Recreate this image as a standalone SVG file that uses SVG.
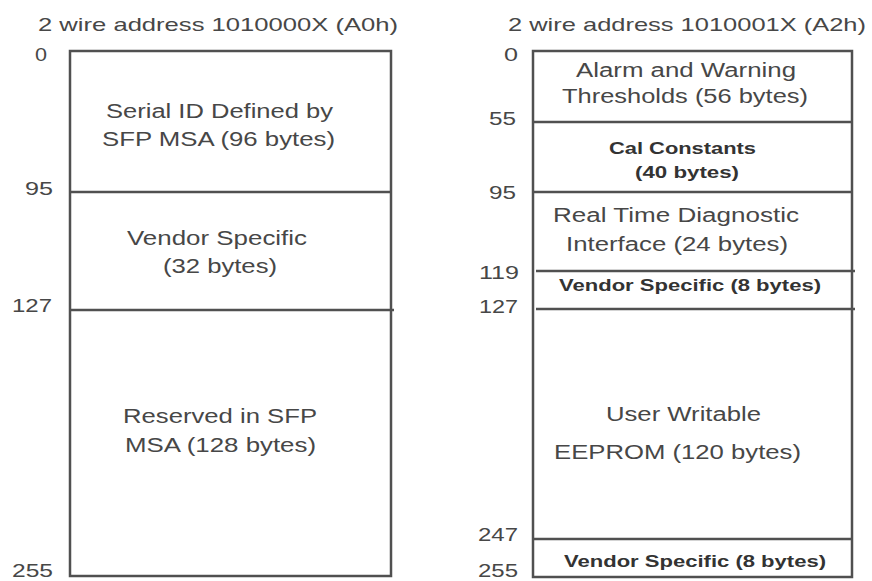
<svg xmlns="http://www.w3.org/2000/svg" width="872" height="581" viewBox="0 0 872 581">
<style>
.t{font-family:"Liberation Sans",Arial,sans-serif;fill:#474747;font-size:20px}
.title{font-size:19px}
.n{font-size:19px}
.b{font-family:"Liberation Sans",Arial,sans-serif;font-weight:bold;font-size:16px;fill:#333}
.ln{stroke:#505050;stroke-width:2.5;fill:none}
</style>
<rect width="872" height="581" fill="#fff"/>
<g id="a0-map">
  <text class="t title" x="38" y="31" textLength="360" lengthAdjust="spacingAndGlyphs">2 wire address 1010000X (A0h)</text>
  <rect class="ln" x="70" y="51" width="321" height="525"/>
  <line class="ln" x1="70" y1="192" x2="391" y2="192"/>
  <line class="ln" x1="70" y1="310" x2="394" y2="310"/>
  <g id="a0-offsets">
    <text class="t n" x="35" y="61" textLength="12" lengthAdjust="spacingAndGlyphs">0</text>
    <text class="t n" x="25" y="195" textLength="28" lengthAdjust="spacingAndGlyphs">95</text>
    <text class="t n" x="12" y="312" textLength="40" lengthAdjust="spacingAndGlyphs">127</text>
    <text class="t n" x="12" y="577" textLength="41" lengthAdjust="spacingAndGlyphs">255</text>
  </g>
  <g id="a0-serial-id">
    <text class="t" x="106" y="118" textLength="227" lengthAdjust="spacingAndGlyphs">Serial ID Defined by</text>
    <text class="t" x="102" y="146" textLength="233" lengthAdjust="spacingAndGlyphs">SFP MSA (96 bytes)</text>
  </g>
  <g id="a0-vendor">
    <text class="t" x="127" y="245" textLength="180" lengthAdjust="spacingAndGlyphs">Vendor Specific</text>
    <text class="t" x="163" y="273" textLength="114" lengthAdjust="spacingAndGlyphs">(32 bytes)</text>
  </g>
  <g id="a0-reserved">
    <text class="t" x="123" y="423" textLength="194" lengthAdjust="spacingAndGlyphs">Reserved in SFP</text>
    <text class="t" x="125" y="452" textLength="191" lengthAdjust="spacingAndGlyphs">MSA (128 bytes)</text>
  </g>
</g>
<g id="a2-map">
  <text class="t title" x="508" y="31" textLength="358" lengthAdjust="spacingAndGlyphs">2 wire address 1010001X (A2h)</text>
  <rect class="ln" x="533" y="51" width="319" height="526"/>
  <line class="ln" x1="533" y1="122" x2="852" y2="122"/>
  <line class="ln" x1="533" y1="192" x2="852" y2="192"/>
  <line class="ln" x1="536" y1="271" x2="855" y2="271"/>
  <line class="ln" x1="536" y1="309" x2="855" y2="309"/>
  <line class="ln" x1="533" y1="539" x2="852" y2="539"/>
  <g id="a2-offsets">
    <text class="t n" x="504" y="61" textLength="14" lengthAdjust="spacingAndGlyphs">0</text>
    <text class="t n" x="489" y="125" textLength="27" lengthAdjust="spacingAndGlyphs">55</text>
    <text class="t n" x="489" y="199" textLength="27" lengthAdjust="spacingAndGlyphs">95</text>
    <text class="t n" x="479" y="279" textLength="40" lengthAdjust="spacingAndGlyphs">119</text>
    <text class="t n" x="479" y="313" textLength="39" lengthAdjust="spacingAndGlyphs">127</text>
    <text class="t n" x="478" y="541" textLength="40" lengthAdjust="spacingAndGlyphs">247</text>
    <text class="t n" x="478" y="577" textLength="40" lengthAdjust="spacingAndGlyphs">255</text>
  </g>
  <g id="a2-thresholds">
    <text class="t" x="576" y="77" textLength="220" lengthAdjust="spacingAndGlyphs">Alarm and Warning</text>
    <text class="t" x="562" y="103" textLength="246" lengthAdjust="spacingAndGlyphs">Thresholds (56 bytes)</text>
  </g>
  <g id="a2-cal">
    <text class="b" x="609" y="154" textLength="147" lengthAdjust="spacingAndGlyphs">Cal Constants</text>
    <text class="b" x="635" y="178" textLength="104" lengthAdjust="spacingAndGlyphs">(40 bytes)</text>
  </g>
  <g id="a2-diagnostic">
    <text class="t" x="553" y="222" textLength="246" lengthAdjust="spacingAndGlyphs">Real Time Diagnostic</text>
    <text class="t" x="566" y="251" textLength="222" lengthAdjust="spacingAndGlyphs">Interface (24 bytes)</text>
  </g>
  <g id="a2-vendor1">
    <text class="b" x="559" y="291" textLength="262" lengthAdjust="spacingAndGlyphs">Vendor Specific (8 bytes)</text>
  </g>
  <g id="a2-eeprom">
    <text class="t" x="606" y="421" textLength="155" lengthAdjust="spacingAndGlyphs">User Writable</text>
    <text class="t" x="554" y="459" textLength="247" lengthAdjust="spacingAndGlyphs">EEPROM (120 bytes)</text>
  </g>
  <g id="a2-vendor2">
    <text class="b" x="564" y="567" textLength="262" lengthAdjust="spacingAndGlyphs">Vendor Specific (8 bytes)</text>
  </g>
</g>
</svg>
